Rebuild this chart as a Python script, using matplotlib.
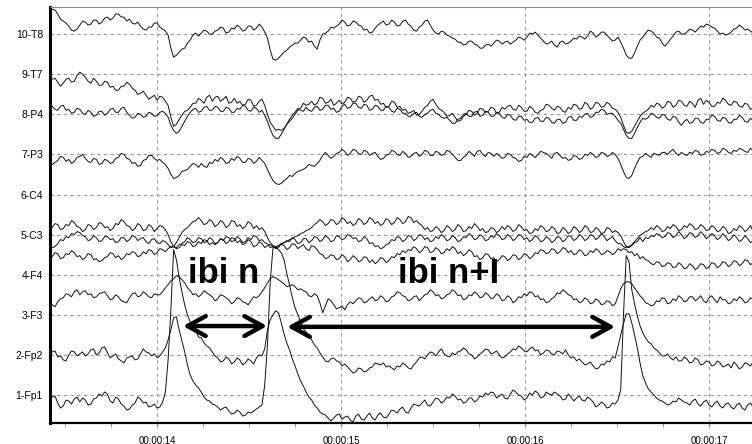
import numpy as np
import matplotlib
matplotlib.use('Agg')
import matplotlib.pyplot as plt
from matplotlib.ticker import MultipleLocator

plt.rcParams['font.family'] = ['Liberation Sans', 'DejaVu Sans']

# montage, bottom to top
channels = ['1-Fp1', '2-Fp2', '3-F3', '4-F4', '5-C3',
            '6-C4', '7-P3', '8-P4', '9-T7', '10-T8']
time_ticks = [14, 15, 16, 17]
time_labels = ['00:00:14', '00:00:15', '00:00:16', '00:00:17']

# one sample every 15 ms from 13.43 s, amplitudes in uV
t_start = 13.43
dt = 0.015

fp1 = [-2, -1, -8, -13, -11, -5, -6, -9, -4, -2,
       -7, -3, -5, -10, -9, -4, -3, 1, -1, 3,
       1, -6, -8, -2, -4, -9, -11, -15, -14, -10,
       -8, -2, -4, -8, -7, -12, -11, -9, -13, -12,
       -7, 3, 35, 85, 145, 135, 117, 103, 90, 80,
       73, 69, 64, 58, 57, 52, 49, 47, 43, 39,
       37, 33, 34, 38, 36, 31, 33, 37, 35, 30,
       32, 36, 34, 31, 37, 40, 39, 46, 65, 75,
       80, 84, 82, 72, 61, 52, 45, 36, 29, 21,
       14, 9, 3, -2, -5, -10, -13, -17, -19, -20,
       -23, -26, -23, -20, -19, -24, -22, -21, -25, -27,
       -21, -19, -24, -25, -21, -18, -23, -25, -20, -18,
       -22, -23, -19, -15, -16, -18, -14, -12, -17, -18,
       -13, -9, -10, -11, -8, -5, -10, -11, -7, -3,
       -4, -8, -6, -2, -3, 1, -1, -5, -4, -8,
       -7, -3, -3, -7, -5, -1, -2, 2, 0, 3,
       2, -3, -1, 1, -3, -4, 1, 5, 3, 0,
       -1, -5, -3, 2, 0, 4, 2, -3, -2, 3,
       1, 0, 3, 1, -1, -5, -4, 1, -2, -6,
       -3, -1, -5, -6, -2, -4, -7, -12, -10, -7,
       -9, -13, -12, -8, -9, -5, 5, 80, 139, 133,
       105, 91, 79, 69, 62, 57, 53, 51, 47, 45,
       42, 39, 39, 41, 37, 35, 38, 34, 34, 38,
       36, 32, 33, 37, 35, 30, 31, 34, 33, 29,
       30, 34, 32, 28, 29, 31, 27, 33, 30, 26,
       28, 32, 31, 29, 33, 35, 31]
fp2 = [3, 4, -2, -1, -5, -6, 0, 4, 3, -1,
       1, 3, -1, 1, 5, 6, 0, 2, 7, 8,
       2, -3, -1, 1, -4, -6, -8, -3, -2, -1,
       -5, -4, 1, 6, 3, 2, -1, 1, -3, -1,
       3, 7, 15, 25, 37, 38, 25, 14, 3, -10,
       -20, -26, -30, -33, -37, -42, -45, -46, -49, -50,
       -52, -55, -53, -52, -56, -59, -58, -55, -57, -61,
       -60, -57, -58, -56, -54, -52, -50, -30, 10, 73,
       107, 108, 105, 102, 95, 81, 70, 57, 47, 40,
       33, 26, 23, 19, 15, 10, 7, 2, -2, -6,
       -7, -4, -3, -6, -7, -11, -9, -12, -15, -18,
       -17, -13, -14, -17, -16, -13, -12, -8, -9, -10,
       -8, -12, -11, -13, -15, -11, -12, -8, -10, -13,
       -14, -10, -7, -3, -2, -4, 0, 3, 2, -1,
       3, 6, 1, -1, -2, 2, 0, 3, 4, 7,
       5, 1, 0, -4, -2, 1, 3, 6, 5, 1,
       2, 4, 0, -3, -2, 1, 3, 6, 5, 9,
       7, 4, 3, 6, 8, 4, 5, 0, 2, 5,
       4, 1, 0, 4, 3, 1, 5, 0, -3, -2,
       -6, -4, -7, -10, -9, -7, -11, -14, -13, -9,
       -10, -6, -7, -2, -3, 8, 20, 31, 41, 41,
       32, 20, 7, -8, -21, -28, -34, -37, -40, -43,
       -45, -46, -48, -50, -49, -46, -47, -43, -45, -47,
       -48, -50, -46, -44, -49, -51, -47, -45, -50, -52,
       -48, -46, -51, -53, -49, -48, -52, -54, -50, -48,
       -53, -55, -50, -48, -52, -54, -51]
f3 = [10, 8, 13, 16, 17, 21, 20, 18, 23, 25,
      20, 23, 24, 20, 21, 17, 18, 21, 22, 23,
      19, 15, 16, 20, 18, 14, 13, 12, 17, 21,
      22, 18, 19, 23, 21, 18, 17, 21, 20, 20,
      23, 27, 30, 34, 36, 39, 38, 35, 32, 27,
      24, 20, 21, 18, 20, 24, 22, 20, 18, 14,
      16, 20, 19, 17, 15, 11, 13, 17, 16, 13,
      12, 10, 14, 18, 17, 19, 23, 27, 32, 36,
      38, 37, 35, 33, 31, 28, 29, 30, 28, 25,
      26, 24, 23, 19, 18, 21, 19, 12, 2, 9,
      16, 14, 10, 6, 7, 9, 5, 10, 13, 11,
      14, 17, 16, 12, 13, 16, 18, 14, 15, 19,
      17, 13, 14, 18, 19, 23, 22, 19, 18, 14,
      15, 18, 19, 14, 17, 20, 21, 25, 23, 19,
      20, 16, 17, 20, 21, 25, 23, 19, 20, 15,
      16, 20, 19, 23, 21, 17, 18, 22, 20, 16,
      17, 21, 19, 14, 15, 19, 17, 12, 14, 18,
      17, 21, 19, 23, 22, 18, 19, 15, 16, 12,
      13, 16, 18, 22, 21, 25, 23, 20, 19, 15,
      16, 12, 13, 17, 15, 11, 12, 16, 14, 10,
      11, 14, 13, 9, 11, 18, 26, 31, 33, 33,
      31, 27, 23, 19, 16, 12, 11, 9, 10, 14,
      13, 17, 16, 11, 12, 16, 14, 19, 17, 13,
      14, 18, 18, 14, 16, 19, 14, 12, 17, 19,
      15, 12, 18, 15, 15, 11, 12, 16, 14, 18,
      16, 12, 13, 17, 15, 11, 14]
f4 = [18, 22, 21, 16, 17, 21, 20, 24, 22, 18,
      19, 15, 17, 21, 20, 15, 16, 13, 14, 17,
      18, 22, 21, 17, 19, 15, 17, 21, 20, 23,
      22, 18, 19, 23, 21, 25, 24, 20, 22, 26,
      25, 23, 26, 28, 28, 26, 27, 30, 29, 33,
      32, 28, 29, 33, 31, 35, 34, 30, 32, 30,
      32, 36, 35, 31, 33, 37, 36, 32, 34, 30,
      31, 35, 33, 28, 29, 33, 31, 27, 29, 30,
      28, 26, 27, 31, 29, 25, 27, 31, 30, 26,
      28, 30, 26, 24, 29, 28, 25, 21, 20, 16,
      17, 20, 19, 15, 16, 20, 18, 13, 15, 19,
      17, 13, 14, 18, 17, 12, 15, 11, 13, 17,
      16, 12, 14, 18, 17, 21, 20, 24, 22, 25,
      24, 28, 26, 22, 24, 28, 27, 22, 23, 27,
      25, 21, 22, 26, 24, 28, 26, 21, 23, 19,
      21, 25, 23, 18, 19, 15, 17, 21, 20, 16,
      17, 13, 15, 19, 18, 14, 16, 20, 19, 15,
      17, 21, 20, 16, 18, 22, 21, 25, 24, 21,
      22, 26, 25, 21, 23, 27, 26, 22, 24, 20,
      21, 25, 23, 19, 20, 24, 22, 26, 24, 20,
      21, 24, 23, 20, 22, 26, 24, 26, 25, 22,
      23, 19, 21, 16, 18, 15, 14, 11, 10, 13,
      12, 8, 9, 12, 11, 7, 8, 12, 10, 6,
      7, 11, 9, 5, 7, 11, 10, 6, 8, 12,
      11, 7, 9, 13, 12, 8, 10, 14, 13, 9,
      11, 15, 14, 10, 12, 15, 13]
c3 = [-13, -12, -9, -5, -6, -2, -3, 1, 0, 3,
      2, -1, -2, -6, -5, -1, -3, -7, -6, -2,
      -2, -5, -4, -8, -7, -3, -3, -7, -5, -1,
      -2, -6, -4, -3, -7, -9, -5, -4, -8, -9,
      -6, -7, -10, -13, -12, -13, -10, -9, -7, -3,
      -5, -8, -7, -3, -4, -8, -7, -3, -5, -9,
      -8, -4, -6, -2, -3, -7, -6, -2, -4, -8,
      -7, -3, -5, -1, -2, -6, -5, -8, -9, -13,
      -12, -13, -11, -9, -8, -6, -7, -3, -5, -9,
      -8, -4, -4, -8, -6, -2, -3, -7, -5, -1,
      -3, -7, -6, -1, -2, -5, -4, 0, -1, -4,
      -3, -7, -6, -2, -4, -9, -8, -12, -11, -14,
      -13, -10, -9, -5, -6, -2, -3, -7, -5, -1,
      -2, -6, -4, 0, -1, -5, -3, -7, -6, -2,
      -4, 0, -2, -6, -5, -1, -3, -7, -6, -2,
      -3, 1, -1, -5, -4, 0, -2, -6, -5, -1,
      -3, 1, -1, -5, -4, 0, -2, -6, -4, 0,
      -1, -5, -3, -7, -5, -1, -3, -7, -6, -2,
      -4, -8, -6, -2, -3, -7, -5, -1, -2, -6,
      -4, 0, -2, -6, -4, 0, -1, -5, -3, 1,
      -2, -6, -4, -2, -6, -9, -9, -12, -13, -13,
      -11, -8, -7, -3, -7, -3, -4, -1, -2, 1,
      0, -3, -2, 2, 1, -3, -1, 3, 0, -4,
      -2, 2, 1, -3, -1, 3, 0, -4, -2, 1,
      -1, -5, -3, 1, -2, -6, -4, 0, -3, -7,
      -5, -1, -4, -8, -6, -2, -5]
c4 = [-33, -29, -30, -35, -34, -30, -31, -26, -28, -32,
      -33, -37, -35, -30, -31, -35, -33, -28, -29, -33,
      -32, -36, -34, -29, -30, -25, -27, -31, -32, -36,
      -34, -29, -31, -36, -35, -30, -32, -37, -34, -31,
      -32, -35, -40, -47, -52, -48, -43, -38, -35, -33,
      -30, -27, -26, -23, -26, -30, -29, -25, -27, -32,
      -30, -26, -28, -33, -31, -26, -27, -32, -30, -34,
      -32, -27, -29, -34, -31, -35, -33, -37, -43, -48,
      -51, -52, -51, -50, -48, -47, -45, -44, -42, -41,
      -39, -38, -36, -35, -33, -30, -28, -25, -27, -31,
      -29, -25, -26, -30, -28, -23, -25, -29, -27, -31,
      -29, -24, -26, -30, -28, -23, -25, -29, -27, -31,
      -29, -24, -26, -30, -28, -23, -25, -29, -27, -22,
      -23, -28, -26, -29, -31, -35, -33, -37, -36, -32,
      -34, -38, -36, -31, -33, -37, -35, -30, -32, -37,
      -36, -32, -34, -29, -32, -36, -34, -38, -37, -33,
      -34, -38, -36, -32, -35, -31, -33, -37, -35, -30,
      -32, -36, -35, -39, -38, -34, -36, -31, -33, -37,
      -36, -32, -34, -39, -38, -33, -35, -39, -37, -32,
      -34, -38, -36, -31, -33, -38, -37, -33, -35, -39,
      -38, -33, -34, -38, -36, -38, -41, -47, -52, -52,
      -50, -47, -44, -41, -39, -37, -36, -33, -35, -31,
      -33, -37, -36, -32, -34, -30, -32, -36, -35, -31,
      -33, -29, -31, -35, -34, -30, -32, -36, -35, -31,
      -33, -37, -36, -32, -34, -39, -38, -34, -36, -31,
      -33, -37, -35, -31, -37, -33, -34]
p3 = [-10, -8, -6, -2, -3, -7, -5, -9, -7, -3,
      -2, 0, -4, -7, -8, -4, -5, -10, -9, -5,
      -6, -9, -8, -4, -3, 1, 0, -4, -5, -9,
      -8, -12, -11, -6, -5, -1, -1, -4, -6, -5,
      -8, -10, -14, -20, -24, -23, -21, -17, -16, -15,
      -12, -9, -10, -13, -9, -12, -13, -8, -9, -5,
      -7, -3, -5, -9, -8, -4, -6, -2, -4, -8,
      -8, -4, -5, -9, -7, -3, -6, -9, -15, -21,
      -26, -29, -30, -29, -26, -24, -21, -22, -19, -17,
      -16, -15, -13, -10, -11, -12, -9, -6, -1, 2,
      -1, -4, -2, 1, 2, 5, 3, -1, 1, 5,
      4, 1, 0, 4, 3, -1, 1, 2, -2, -5,
      -4, -1, 0, 4, 3, 0, -1, 3, 1, -3,
      -2, 1, 2, -2, 0, 4, 3, -1, -1, 3,
      2, -1, 0, 4, 3, 0, -3, -6, -6, -3,
      -1, 3, 1, -2, 3, 4, 0, -2, 2, 1,
      -2, 1, -1, -4, -3, 1, 0, -3, -4, -7,
      -6, -2, -3, 1, -1, -3, 0, 3, 2, 1,
      -1, -4, 1, 2, -1, -4, -3, -6, -5, -1,
      -2, -5, -4, 0, -1, 2, 0, -3, -2, 2,
      1, -2, -1, 2, 0, -4, -10, -17, -23, -24,
      -21, -14, -8, -3, -2, 1, -1, -3, 1, 0,
      -1, 2, 2, 0, 3, 5, 1, -1, 2, 0,
      -1, 2, 1, 4, 3, -1, 0, 3, 2, 5,
      4, 1, 2, 6, 5, 2, 1, 4, 3, 6,
      5, 3, 2, 6, 4, 1, 3]
p4 = [8, 5, 4, 8, 9, 4, 5, 1, 2, 6,
      5, 1, 0, 4, 2, -2, -1, 3, 3, -1,
      1, 5, 6, 2, 2, 6, 7, 2, -1, -4,
      -3, 1, 0, -3, -2, 2, 1, -2, -1, 2,
      3, 1, -3, -11, -16, -19, -17, -12, -7, -2,
      2, 5, 6, 2, 3, 7, 8, 4, 4, 8,
      7, 3, 3, 7, 6, 2, 2, 6, 5, 9,
      8, 4, 3, 7, 6, 2, 4, -1, -7, -15,
      -21, -24, -24, -20, -15, -10, -5, -1, 2, 6,
      4, 3, 7, 4, 3, 7, 8, 4, 5, 9,
      9, 5, 6, 2, 3, 8, 10, 6, 7, 11,
      11, 7, 6, 10, 9, 4, 5, 9, 8, 4,
      4, 8, 7, 3, 2, 6, 5, 1, 1, -2,
      -2, 1, 2, -2, -3, 0, 1, 4, 5, 1,
      0, -3, -4, -3, -6, -9, -9, -5, -4, 0,
      1, -2, -2, 2, 3, -2, -1, 3, 2, -2,
      -2, 2, 1, -3, -4, 0, -1, -5, -6, -2,
      -2, -6, -5, -8, -8, -4, -3, -7, -7, -3,
      -4, -8, -9, -5, -5, -9, -8, -3, -2, -6,
      -6, -2, -3, 0, 1, -3, -2, 2, 2, 5,
      4, 0, 1, 1, -2, -6, -9, -15, -21, -24,
      -24, -19, -13, -8, -4, -5, -3, 1, 0, -3,
      -4, 0, -1, -5, -6, -2, -3, -8, -11, -7,
      -5, -9, -8, -4, -4, -8, -9, -5, -5, -1,
      -2, -6, -7, -3, -4, -8, -9, -5, -5, -1,
      -3, -7, -8, -4, -6, -10, -10]
t7 = [-5, -4, -8, -12, -9, -5, -4, -8, -7, -1,
      2, 0, -3, -7, -9, -4, -7, -11, -11, -7,
      -8, -13, -12, -16, -16, -12, -12, -8, -10, -14,
      -16, -20, -19, -17, -21, -25, -23, -21, -26, -22,
      -23, -27, -31, -43, -52, -50, -45, -41, -37, -36,
      -33, -29, -29, -24, -26, -29, -23, -21, -27, -23,
      -22, -27, -25, -22, -29, -28, -24, -29, -27, -31,
      -30, -25, -26, -32, -31, -27, -25, -31, -40, -48,
      -52, -56, -55, -56, -54, -50, -47, -44, -40, -36,
      -34, -29, -31, -30, -27, -31, -29, -23, -24, -29,
      -28, -25, -31, -29, -26, -30, -28, -23, -24, -28,
      -27, -22, -23, -28, -26, -22, -21, -26, -25, -30,
      -29, -33, -32, -27, -28, -33, -32, -36, -35, -39,
      -38, -36, -41, -40, -37, -33, -31, -27, -25, -30,
      -34, -36, -38, -42, -41, -39, -43, -47, -46, -42,
      -40, -36, -37, -41, -39, -34, -35, -38, -37, -33,
      -34, -39, -38, -33, -35, -32, -31, -35, -36, -31,
      -33, -37, -37, -32, -34, -38, -39, -36, -35, -30,
      -31, -34, -36, -32, -33, -37, -38, -33, -35, -30,
      -31, -35, -34, -28, -30, -35, -33, -28, -29, -33,
      -32, -28, -30, -34, -35, -38, -43, -51, -58, -59,
      -57, -52, -47, -42, -39, -37, -35, -31, -33, -29,
      -30, -34, -32, -27, -28, -33, -31, -26, -27, -31,
      -32, -27, -29, -33, -26, -24, -30, -26, -28, -32,
      -32, -28, -29, -24, -26, -30, -31, -27, -28, -32,
      -33, -29, -30, -35, -34, -29, -31]
t8 = [25, 24, 20, 15, 13, 11, 8, 4, 3, 5,
      9, 13, 12, 9, 10, 14, 14, 10, 12, 16,
      17, 14, 16, 20, 20, 17, 17, 13, 15, 11,
      10, 12, 8, 5, 4, 7, 7, 11, 11, 7,
      5, 3, -1, -14, -23, -21, -18, -15, -14, -9,
      -6, -1, 1, -2, 1, 4, 3, 0, 0, 3,
      4, 7, 6, 1, 2, 6, 5, 9, 7, 3,
      4, 8, 8, 4, 6, 10, 7, 2, -4, -16,
      -25, -26, -24, -21, -18, -16, -13, -11, -9, -9,
      -6, -3, -4, -8, -7, -12, -15, -6, 0, 1,
      3, 7, 6, 8, 10, 14, 12, 8, 9, 13,
      12, 9, 8, 4, 5, 1, 2, 6, 9, 11,
      13, 9, 10, 14, 12, 8, 9, 13, 14, 10,
      8, 4, 3, 7, 9, 13, 14, 9, 4, 1,
      0, 3, 2, -1, -2, -4, -5, -8, -8, -11,
      -10, -7, -7, -10, -11, -14, -14, -11, -10, -12,
      -9, -6, -7, -10, -8, -7, -10, -8, -6, -3,
      -4, -6, -3, 1, 0, 2, -1, -4, -7, -10,
      -9, -7, -11, -13, -8, -7, -10, -9, -7, -4,
      -5, -2, -3, -5, -2, 3, 1, -3, -1, 2,
      2, -1, -4, -7, -6, -3, -8, -14, -21, -24,
      -24, -19, -12, -6, -3, 1, 4, 3, 1, -3,
      -4, -9, -12, -9, -5, -2, 2, 3, 0, 0,
      2, 5, 4, 2, 5, 8, 7, 10, 9, 7,
      6, 3, 0, 1, -1, 0, 2, 5, 6, 9,
      7, 4, 5, 3, 1, -1, -2]

traces = [fp1, fp2, f3, f4, c3, c4, p3, p4, t7, t8]
uv_per_channel = 40.0

# inter-blink intervals (start, end, height in channel units) and labels
ibi_arrows = [(14.141, 14.598, 2.72), (14.707, 16.489, 2.70)]
ibi_labels = [(14.168, 3.79, 'ibi n'), (15.31, 3.79, 'ibi n+I')]

fig = plt.figure(figsize=(7.52, 4.44), dpi=100)
ax = fig.add_axes([50 / 752, 21 / 444, 710 / 752, 416 / 444])

for k, tr in enumerate(traces):
    t = t_start + dt * np.arange(len(tr))
    ax.plot(t, k + 1 + np.asarray(tr) / uv_per_channel, color='#111111', lw=0.7)

ax.set_xlim(13.418, 17.277)
ax.set_ylim(0.302, 10.676)

ax.set_xticks(time_ticks)
ax.set_xticklabels(time_labels)
ax.xaxis.set_minor_locator(MultipleLocator(0.25))
ax.set_yticks(range(1, len(channels) + 1))
ax.set_yticklabels(channels)

ax.grid(True, which='major', ls=(0, (3, 3)), color='#9a9a9a', lw=0.8)
ax.tick_params(axis='x', which='both', direction='out', length=3, color='#888888',
               labelsize=7, pad=6)
ax.tick_params(axis='y', length=0, labelsize=7.5, pad=5)

ax.spines['left'].set_linewidth(2.2)
ax.spines['bottom'].set_linewidth(1.6)
ax.spines['top'].set_linewidth(0.8)
ax.spines['top'].set_color('#888888')
ax.spines['right'].set_visible(False)

for x0, x1, y in ibi_arrows:
    ax.annotate('', xy=(x0, y), xytext=(x1, y),
                arrowprops=dict(arrowstyle='<->,head_length=1.0,head_width=0.55',
                                lw=3.2, color='black', mutation_scale=13,
                                shrinkA=0, shrinkB=0))
for x, y, s in ibi_labels:
    ax.text(x, y, s, fontsize=25, fontweight='bold', va='baseline', ha='left')

fig.savefig('out.png', dpi=100)
